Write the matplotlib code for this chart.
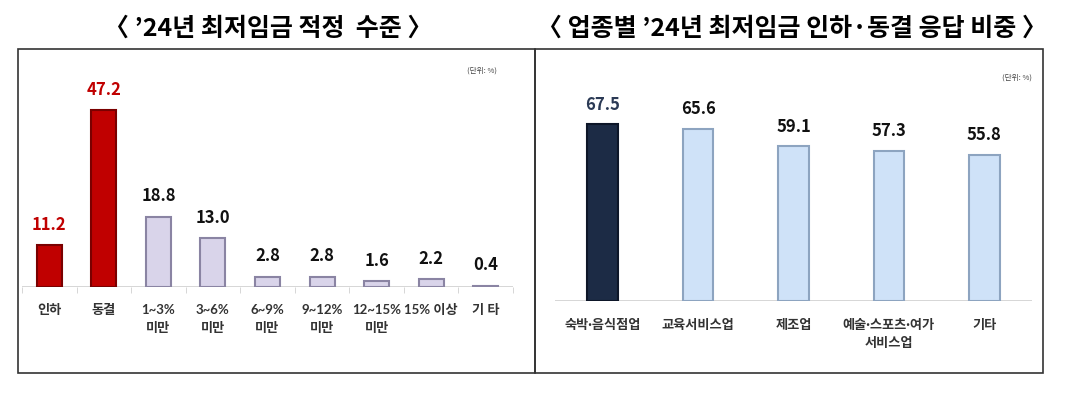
import matplotlib.pyplot as plt
from matplotlib.patches import Rectangle

plt.rcParams['font.family'] = ['Noto Sans CJK KR', 'DejaVu Sans']

# left chart: appropriate level of 2024 minimum wage
left_cats = ['인하', '동결', '1~3%\n미만', '3~6%\n미만', '6~9%\n미만',
             '9~12%\n미만', '12~15%\n미만', '15% 이상', '기 타']
left_vals = [11.2, 47.2, 18.8, 13.0, 2.8, 2.8, 1.6, 2.2, 0.4]
left_title = '〈 ’24년 최저임금 적정  수준 〉'

# right chart: share answering cut/freeze by industry
right_cats = ['숙박·음식점업', '교육서비스업', '제조업', '예술·스포츠·여가\n서비스업', '기타']
right_vals = [67.5, 65.6, 59.1, 57.3, 55.8]
right_title = '〈 업종별 ’24년 최저임금 인하·동결 응답 비중 〉'

W, H = 1078, 393
fig = plt.figure(figsize=(W / 100, H / 100), dpi=100)


def fx(px):
    return px / W


def fy(py):
    return 1 - py / H


# panel boxes
fig.patches.append(Rectangle((fx(18), fy(373)), fx(517), 324 / H, transform=fig.transFigure,
                             fill=False, edgecolor='#333333', linewidth=1.2))
fig.patches.append(Rectangle((fx(535), fy(373)), fx(508), 324 / H, transform=fig.transFigure,
                             fill=False, edgecolor='#333333', linewidth=1.2))

fig.text(fx(268), fy(29), left_title, ha='center', va='center', fontsize=18, fontweight='bold')
fig.text(fx(792), fy(29), right_title, ha='center', va='center', fontsize=18, fontweight='bold')
fig.text(fx(497), fy(71), '(단위: %)', ha='right', va='center', fontsize=5.5, color='#444444')
fig.text(fx(1032), fy(78), '(단위: %)', ha='right', va='center', fontsize=5.5, color='#444444')

tick_font = ['Lato', 'Noto Sans CJK KR']


def style_axes(ax, n):
    for s in ax.spines.values():
        s.set_visible(False)
    ax.axhline(0, color='#d0d0d0', linewidth=1.2, zorder=1)
    ax.set_yticks([])
    ax.set_xlim(-0.5, n - 0.5)
    ax.tick_params(axis='x', length=0)
    ax.set_xticks([i + 0.5 for i in range(-1, n)], minor=True)
    ax.tick_params(axis='x', which='minor', length=4, color='#d0d0d0', direction='out')
    ax.set_xticklabels([], minor=True)


# left
ax1 = fig.add_axes([fx(22), fy(287), fx(491), 217 / H])
xs = range(len(left_vals))
l_face = ['#c00000', '#c00000'] + ['#d9d4ea'] * 7
l_edge = ['#7a0000', '#7a0000'] + ['#8a84a3'] * 7
ax1.bar(xs, left_vals, width=0.46, color=l_face, edgecolor=l_edge, linewidth=1.5, zorder=2)
ax1.set_ylim(0, 47.2 * 217 / 177)
style_axes(ax1, len(left_vals))
ax1.set_xticks(list(xs))
ax1.set_xticklabels(left_cats, fontsize=9.5, fontweight='bold', color='#333333',
                    linespacing=1.6, family=tick_font)
ax1.tick_params(axis='x', pad=12)
for i, v in enumerate(left_vals):
    c = '#c00000' if i < 2 else '#111111'
    ax1.text(i, v + 3.0, f'{v:.1f}', ha='center', va='bottom', fontsize=12,
             fontweight='bold', color=c)

# right
ax2 = fig.add_axes([fx(555), fy(301), fx(477), 231 / H])
xs2 = range(len(right_vals))
r_face = ['#1c2b45'] + ['#cfe2f8'] * 4
r_edge = ['#0d1628'] + ['#8da4c0'] * 4
ax2.bar(xs2, right_vals, width=0.32, color=r_face, edgecolor=r_edge, linewidth=1.5, zorder=2)
ax2.set_ylim(0, 67.5 * 231 / 177)
style_axes(ax2, len(right_vals))
ax2.tick_params(axis='x', which='minor', length=0)
ax2.set_xticks(list(xs2))
ax2.set_xticklabels(right_cats, fontsize=9.5, fontweight='bold', color='#333333',
                    linespacing=1.6, family=tick_font)
ax2.tick_params(axis='x', pad=13)
for i, v in enumerate(right_vals):
    c = '#2b3a55' if i == 0 else '#111111'
    ax2.text(i, v + 4.0, f'{v:.1f}', ha='center', va='bottom', fontsize=12,
             fontweight='bold', color=c)

fig.savefig('out.png', dpi=100)
